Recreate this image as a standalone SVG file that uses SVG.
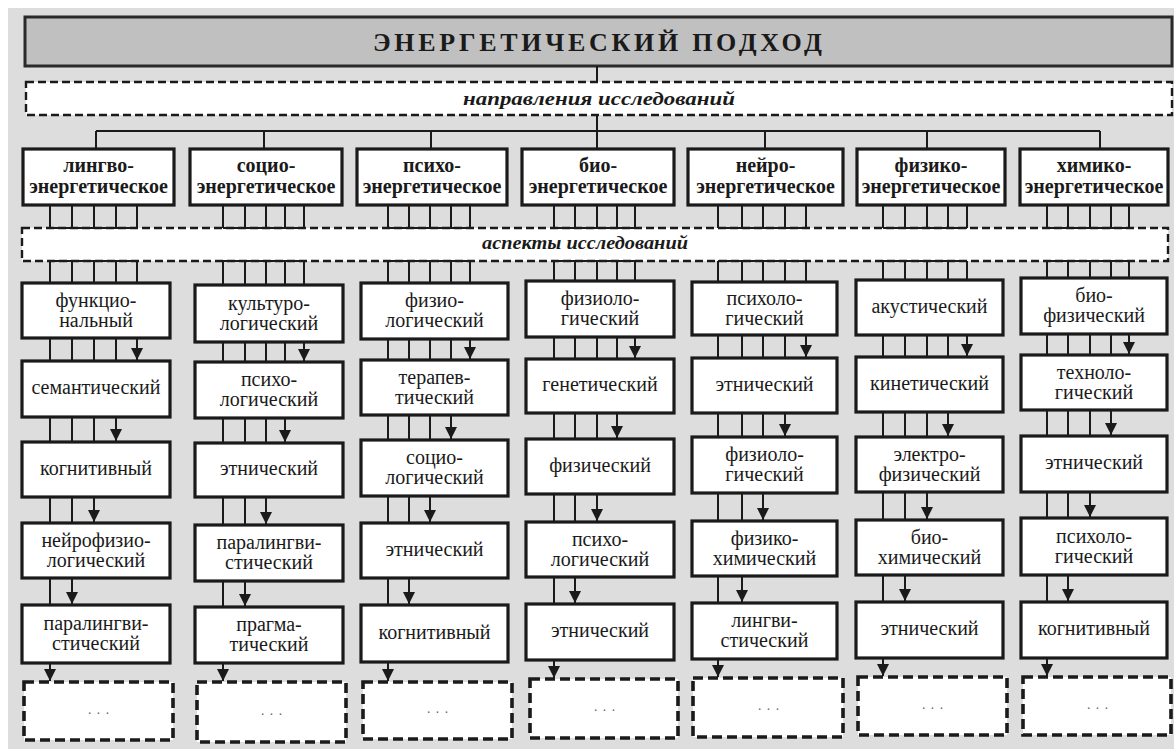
<svg xmlns="http://www.w3.org/2000/svg" width="1174" height="749" viewBox="0 0 1174 749">
<defs>
<style>
.bg{fill:#dddddd}
.box{fill:#fff;stroke:#1a1a1a;stroke-width:3.2}
.ttl{fill:#c0c0c0;stroke:#2a2a2a;stroke-width:3}
.d1{fill:#fff;stroke:#1a1a1a;stroke-width:2.4;stroke-dasharray:8 4}
.d2{fill:#fff;stroke:#1a1a1a;stroke-width:3.6;stroke-dasharray:10 5}
.ln{fill:none;stroke:#1a1a1a;stroke-width:2}
.t{font-family:'Liberation Serif','Times New Roman',serif;font-size:20px;text-anchor:middle;fill:#1a1a1a}
.h{font-weight:bold}
.big{font-family:'Liberation Serif','Times New Roman',serif;font-size:26px;font-weight:bold;fill:#1a1a1a}
.it{font-family:'Liberation Serif','Times New Roman',serif;font-size:18px;font-weight:bold;font-style:italic;fill:#1a1a1a}
.dots{font-family:'Liberation Sans',Arial,sans-serif;font-size:14px;fill:#666;text-anchor:middle;letter-spacing:5px}
</style>
<marker id="ah" viewBox="0 0 12 12" refX="12" refY="6" markerWidth="12" markerHeight="12" markerUnits="userSpaceOnUse" orient="auto"><path d="M0,0 L12,6 L0,12 z" fill="#1a1a1a"/></marker>
</defs>
<rect class="bg" x="8" y="8" width="1166" height="741"/>

<g id="title">
<rect class="ttl" x="25" y="17" width="1147" height="49"/>
<text class="big" x="373" y="50.5" textLength="449" lengthAdjust="spacing">ЭНЕРГЕТИЧЕСКИЙ ПОДХОД</text>
</g>
<g id="directions">
<rect class="d1" x="26" y="82" width="1146" height="33"/>
<text class="it" x="463" y="105" textLength="272" lengthAdjust="spacingAndGlyphs">направления исследований</text>
</g>
<g id="aspects">
<rect class="d1" x="22" y="228" width="1146" height="33"/>
<text class="it" x="482" y="249" textLength="206" lengthAdjust="spacingAndGlyphs">аспекты исследований</text>
</g>

<!-- Column 1 -->
<g id="col1-header"><rect class="box" x="23" y="149" width="151" height="56"/><text class="t h" x="98.5" y="172"><tspan x="98.5">лингво-</tspan><tspan x="98.5" dy="21">энергетическое</tspan></text></g>
<g id="col1-b1"><rect class="box" x="22" y="283" width="148" height="55"/><text class="t" x="96" y="306.5"><tspan x="96">функцио-</tspan><tspan x="96" dy="20">нальный</tspan></text></g>
<g id="col1-b2"><rect class="box" x="22" y="361" width="148" height="56"/><text class="t" x="96" y="394">семантический</text></g>
<g id="col1-b3"><rect class="box" x="22" y="442" width="148" height="55"/><text class="t" x="96" y="474.5">когнитивный</text></g>
<g id="col1-b4"><rect class="box" x="22" y="523" width="148" height="55"/><text class="t" x="96" y="546.5"><tspan x="96">нейрофизио-</tspan><tspan x="96" dy="20">логический</tspan></text></g>
<g id="col1-b5"><rect class="box" x="22" y="605" width="148" height="58"/><text class="t" x="96" y="630"><tspan x="96">паралингви-</tspan><tspan x="96" dy="20">стический</tspan></text></g>
<g id="col1-more"><rect class="d2" x="24" y="682" width="149" height="58"/><text class="dots" x="101" y="714">...</text></g>

<!-- Column 2 -->
<g id="col2-header"><rect class="box" x="190" y="149" width="152" height="56"/><text class="t h" x="266" y="172"><tspan x="266">социо-</tspan><tspan x="266" dy="21">энергетическое</tspan></text></g>
<g id="col2-b1"><rect class="box" x="195" y="285" width="148" height="57"/><text class="t" x="269" y="309.5"><tspan x="269">культуро-</tspan><tspan x="269" dy="20">логический</tspan></text></g>
<g id="col2-b2"><rect class="box" x="195" y="362" width="148" height="56"/><text class="t" x="269" y="386"><tspan x="269">психо-</tspan><tspan x="269" dy="20">логический</tspan></text></g>
<g id="col2-b3"><rect class="box" x="195" y="443" width="148" height="54"/><text class="t" x="269" y="475">этнический</text></g>
<g id="col2-b4"><rect class="box" x="195" y="525" width="148" height="56"/><text class="t" x="269" y="549"><tspan x="269">паралингви-</tspan><tspan x="269" dy="20">стический</tspan></text></g>
<g id="col2-b5"><rect class="box" x="195" y="607" width="148" height="56"/><text class="t" x="269" y="631"><tspan x="269">прагма-</tspan><tspan x="269" dy="20">тический</tspan></text></g>
<g id="col2-more"><rect class="d2" x="197" y="682" width="149" height="60"/><text class="dots" x="274" y="715">...</text></g>

<!-- Column 3 -->
<g id="col3-header"><rect class="box" x="357" y="149" width="150" height="56"/><text class="t h" x="432" y="172"><tspan x="432">психо-</tspan><tspan x="432" dy="21">энергетическое</tspan></text></g>
<g id="col3-b1"><rect class="box" x="361" y="283" width="147" height="56"/><text class="t" x="434.5" y="307"><tspan x="434.5">физио-</tspan><tspan x="434.5" dy="20">логический</tspan></text></g>
<g id="col3-b2"><rect class="box" x="361" y="360" width="147" height="55"/><text class="t" x="434.5" y="383.5"><tspan x="434.5">терапев-</tspan><tspan x="434.5" dy="20">тический</tspan></text></g>
<g id="col3-b3"><rect class="box" x="361" y="440" width="147" height="56"/><text class="t" x="434.5" y="464"><tspan x="434.5">социо-</tspan><tspan x="434.5" dy="20">логический</tspan></text></g>
<g id="col3-b4"><rect class="box" x="361" y="523" width="147" height="55"/><text class="t" x="434.5" y="555.5">этнический</text></g>
<g id="col3-b5"><rect class="box" x="361" y="605" width="147" height="57"/><text class="t" x="434.5" y="638.5">когнитивный</text></g>
<g id="col3-more"><rect class="d2" x="363" y="682" width="149" height="57"/><text class="dots" x="440" y="713">...</text></g>

<!-- Column 4 -->
<g id="col4-header"><rect class="box" x="522" y="149" width="152" height="56"/><text class="t h" x="598" y="172"><tspan x="598">био-</tspan><tspan x="598" dy="21">энергетическое</tspan></text></g>
<g id="col4-b1"><rect class="box" x="526" y="281" width="148" height="56"/><text class="t" x="600" y="305"><tspan x="600">физиоло-</tspan><tspan x="600" dy="20">гический</tspan></text></g>
<g id="col4-b2"><rect class="box" x="526" y="359" width="148" height="54"/><text class="t" x="600" y="391">генетический</text></g>
<g id="col4-b3"><rect class="box" x="526" y="439" width="148" height="55"/><text class="t" x="600" y="471.5">физический</text></g>
<g id="col4-b4"><rect class="box" x="526" y="522" width="148" height="55"/><text class="t" x="600" y="545.5"><tspan x="600">психо-</tspan><tspan x="600" dy="20">логический</tspan></text></g>
<g id="col4-b5"><rect class="box" x="526" y="604" width="148" height="56"/><text class="t" x="600" y="637">этнический</text></g>
<g id="col4-more"><rect class="d2" x="530" y="679" width="148" height="59"/><text class="dots" x="607" y="711">...</text></g>

<!-- Column 5 -->
<g id="col5-header"><rect class="box" x="688" y="149" width="155" height="56"/><text class="t h" x="765.5" y="172"><tspan x="765.5">нейро-</tspan><tspan x="765.5" dy="21">энергетическое</tspan></text></g>
<g id="col5-b1"><rect class="box" x="692" y="282" width="145" height="53"/><text class="t" x="764.5" y="304.5"><tspan x="764.5">психоло-</tspan><tspan x="764.5" dy="20">гический</tspan></text></g>
<g id="col5-b2"><rect class="box" x="692" y="358" width="145" height="55"/><text class="t" x="764.5" y="390.5">этнический</text></g>
<g id="col5-b3"><rect class="box" x="692" y="437" width="145" height="56"/><text class="t" x="764.5" y="461"><tspan x="764.5">физиоло-</tspan><tspan x="764.5" dy="20">гический</tspan></text></g>
<g id="col5-b4"><rect class="box" x="692" y="521" width="145" height="55"/><text class="t" x="764.5" y="544.5"><tspan x="764.5">физико-</tspan><tspan x="764.5" dy="20">химический</tspan></text></g>
<g id="col5-b5"><rect class="box" x="692" y="603" width="145" height="56"/><text class="t" x="764.5" y="627"><tspan x="764.5">лингви-</tspan><tspan x="764.5" dy="20">стический</tspan></text></g>
<g id="col5-more"><rect class="d2" x="693" y="678" width="150" height="59"/><text class="dots" x="771" y="710">...</text></g>

<!-- Column 6 -->
<g id="col6-header"><rect class="box" x="857" y="149" width="148" height="56"/><text class="t h" x="931" y="172"><tspan x="931">физико-</tspan><tspan x="931" dy="21">энергетическое</tspan></text></g>
<g id="col6-b1"><rect class="box" x="856" y="280" width="147" height="55"/><text class="t" x="929.5" y="312.5">акустический</text></g>
<g id="col6-b2"><rect class="box" x="856" y="357" width="147" height="55"/><text class="t" x="929.5" y="389.5">кинетический</text></g>
<g id="col6-b3"><rect class="box" x="856" y="437" width="147" height="55"/><text class="t" x="929.5" y="460.5"><tspan x="929.5">электро-</tspan><tspan x="929.5" dy="20">физический</tspan></text></g>
<g id="col6-b4"><rect class="box" x="856" y="520" width="147" height="55"/><text class="t" x="929.5" y="543.5"><tspan x="929.5">био-</tspan><tspan x="929.5" dy="20">химический</tspan></text></g>
<g id="col6-b5"><rect class="box" x="856" y="602" width="147" height="56"/><text class="t" x="929.5" y="635">этнический</text></g>
<g id="col6-more"><rect class="d2" x="858" y="677" width="149" height="58"/><text class="dots" x="935" y="709">...</text></g>

<!-- Column 7 -->
<g id="col7-header"><rect class="box" x="1020" y="149" width="148" height="56"/><text class="t h" x="1094" y="172"><tspan x="1094">химико-</tspan><tspan x="1094" dy="21">энергетическое</tspan></text></g>
<g id="col7-b1"><rect class="box" x="1021" y="278" width="146" height="56"/><text class="t" x="1094" y="302"><tspan x="1094">био-</tspan><tspan x="1094" dy="20">физический</tspan></text></g>
<g id="col7-b2"><rect class="box" x="1021" y="355" width="146" height="55"/><text class="t" x="1094" y="378.5"><tspan x="1094">техноло-</tspan><tspan x="1094" dy="20">гический</tspan></text></g>
<g id="col7-b3"><rect class="box" x="1021" y="436" width="146" height="56"/><text class="t" x="1094" y="469">этнический</text></g>
<g id="col7-b4"><rect class="box" x="1021" y="518" width="146" height="57"/><text class="t" x="1094" y="542.5"><tspan x="1094">психоло-</tspan><tspan x="1094" dy="20">гический</tspan></text></g>
<g id="col7-b5"><rect class="box" x="1021" y="602" width="146" height="56"/><text class="t" x="1094" y="635">когнитивный</text></g>
<g id="col7-more"><rect class="d2" x="1023" y="677" width="148" height="58"/><text class="dots" x="1100" y="709">...</text></g>

<g id="connectors">
<path class="ln" d="M597 66V82 M597 115V131 M96 131H1100 M96 131V149 M264 131V149 M431 131V149 M597 131V149 M765 131V149 M927 131V149 M1100 131V149"/>
<path class="ln" d="M50 205V228 M72 205V228 M94 205V228 M116 205V228 M137 205V228 M50 228H137 M50 261H137 M50 261V283 M72 261V283 M94 261V283 M116 261V283 M137 261V283 M50 338V361 M72 338V361 M94 338V361 M116 338V361 M50 417V442 M72 417V442 M94 417V442 M50 497V523 M72 497V523 M50 578V605"/>
<line class="ln" x1="137" y1="338" x2="137" y2="360" marker-end="url(#ah)"/>
<line class="ln" x1="116" y1="417" x2="116" y2="441" marker-end="url(#ah)"/>
<line class="ln" x1="94" y1="497" x2="94" y2="522" marker-end="url(#ah)"/>
<line class="ln" x1="72" y1="578" x2="72" y2="604" marker-end="url(#ah)"/>
<line class="ln" x1="50" y1="663" x2="50" y2="681" marker-end="url(#ah)"/>
<path class="ln" d="M223 205V228 M245 205V228 M266 205V228 M285 205V228 M304 205V228 M223 228H304 M223 261H304 M223 261V285 M245 261V285 M266 261V285 M285 261V285 M304 261V285 M223 342V362 M245 342V362 M266 342V362 M285 342V362 M223 418V443 M245 418V443 M266 418V443 M223 497V525 M245 497V525 M223 581V607"/>
<line class="ln" x1="304" y1="342" x2="304" y2="361" marker-end="url(#ah)"/>
<line class="ln" x1="285" y1="418" x2="285" y2="442" marker-end="url(#ah)"/>
<line class="ln" x1="266" y1="497" x2="266" y2="524" marker-end="url(#ah)"/>
<line class="ln" x1="245" y1="581" x2="245" y2="606" marker-end="url(#ah)"/>
<line class="ln" x1="223" y1="663" x2="223" y2="681" marker-end="url(#ah)"/>
<path class="ln" d="M388 205V228 M409 205V228 M430 205V228 M451 205V228 M470 205V228 M388 228H470 M388 261H470 M388 261V283 M409 261V283 M430 261V283 M451 261V283 M470 261V283 M388 339V360 M409 339V360 M430 339V360 M451 339V360 M388 415V440 M409 415V440 M430 415V440 M388 496V523 M409 496V523 M388 578V605"/>
<line class="ln" x1="470" y1="339" x2="470" y2="359" marker-end="url(#ah)"/>
<line class="ln" x1="451" y1="415" x2="451" y2="439" marker-end="url(#ah)"/>
<line class="ln" x1="430" y1="496" x2="430" y2="522" marker-end="url(#ah)"/>
<line class="ln" x1="409" y1="578" x2="409" y2="604" marker-end="url(#ah)"/>
<line class="ln" x1="388" y1="662" x2="388" y2="681" marker-end="url(#ah)"/>
<path class="ln" d="M554 205V228 M575 205V228 M597 205V228 M617 205V228 M635 205V228 M554 228H635 M554 261H635 M554 261V281 M575 261V281 M597 261V281 M617 261V281 M635 261V281 M554 337V359 M575 337V359 M597 337V359 M617 337V359 M554 413V439 M575 413V439 M597 413V439 M554 494V522 M575 494V522 M554 577V604"/>
<line class="ln" x1="635" y1="337" x2="635" y2="358" marker-end="url(#ah)"/>
<line class="ln" x1="617" y1="413" x2="617" y2="438" marker-end="url(#ah)"/>
<line class="ln" x1="597" y1="494" x2="597" y2="521" marker-end="url(#ah)"/>
<line class="ln" x1="575" y1="577" x2="575" y2="603" marker-end="url(#ah)"/>
<line class="ln" x1="554" y1="660" x2="554" y2="678" marker-end="url(#ah)"/>
<path class="ln" d="M718 205V228 M742 205V228 M763 205V228 M785 205V228 M806 205V228 M718 228H806 M718 261H806 M718 261V282 M742 261V282 M763 261V282 M785 261V282 M806 261V282 M718 335V358 M742 335V358 M763 335V358 M785 335V358 M718 413V437 M742 413V437 M763 413V437 M718 493V521 M742 493V521 M718 576V603"/>
<line class="ln" x1="806" y1="335" x2="806" y2="357" marker-end="url(#ah)"/>
<line class="ln" x1="785" y1="413" x2="785" y2="436" marker-end="url(#ah)"/>
<line class="ln" x1="763" y1="493" x2="763" y2="520" marker-end="url(#ah)"/>
<line class="ln" x1="742" y1="576" x2="742" y2="602" marker-end="url(#ah)"/>
<line class="ln" x1="718" y1="659" x2="718" y2="677" marker-end="url(#ah)"/>
<path class="ln" d="M883 205V228 M905 205V228 M927 205V228 M948 205V228 M967 205V228 M883 228H967 M883 261H967 M883 261V280 M905 261V280 M927 261V280 M948 261V280 M967 261V280 M883 335V357 M905 335V357 M927 335V357 M948 335V357 M883 412V437 M905 412V437 M927 412V437 M883 492V520 M905 492V520 M883 575V602"/>
<line class="ln" x1="967" y1="335" x2="967" y2="356" marker-end="url(#ah)"/>
<line class="ln" x1="948" y1="412" x2="948" y2="436" marker-end="url(#ah)"/>
<line class="ln" x1="927" y1="492" x2="927" y2="519" marker-end="url(#ah)"/>
<line class="ln" x1="905" y1="575" x2="905" y2="601" marker-end="url(#ah)"/>
<line class="ln" x1="883" y1="658" x2="883" y2="676" marker-end="url(#ah)"/>
<path class="ln" d="M1047 205V228 M1068 205V228 M1090 205V228 M1111 205V228 M1129 205V228 M1047 228H1129 M1047 261H1129 M1047 261V278 M1068 261V278 M1090 261V278 M1111 261V278 M1129 261V278 M1047 334V355 M1068 334V355 M1090 334V355 M1111 334V355 M1047 410V436 M1068 410V436 M1090 410V436 M1047 492V518 M1068 492V518 M1047 575V602"/>
<line class="ln" x1="1129" y1="334" x2="1129" y2="354" marker-end="url(#ah)"/>
<line class="ln" x1="1111" y1="410" x2="1111" y2="435" marker-end="url(#ah)"/>
<line class="ln" x1="1090" y1="492" x2="1090" y2="517" marker-end="url(#ah)"/>
<line class="ln" x1="1068" y1="575" x2="1068" y2="601" marker-end="url(#ah)"/>
<line class="ln" x1="1047" y1="658" x2="1047" y2="676" marker-end="url(#ah)"/>
</g>
</svg>
